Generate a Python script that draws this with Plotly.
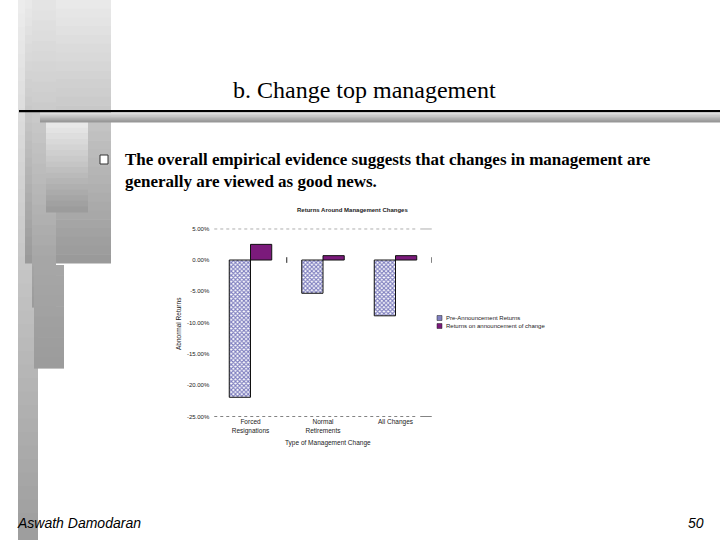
import plotly.graph_objects as go

# ---------------- data ----------------
categories = ["Forced<br>Resignations", "Normal<br>Retirements", "All Changes"]
series_names = ["Pre-Announcement Returns", "Returns on announcement of change"]
pre_returns = [-21.9, -5.3, -8.9]
ann_returns = [2.5, 0.7, 0.7]
y_ticks = [5, 0, -5, -10, -15, -20, -25]
y_tick_labels = ["5.00%", "0.00%", "-5.00%", "-10.00%", "-15.00%", "-20.00%", "-25.00%"]
y_range = [-25, 5]

W, H = 720, 540
def px(x):
    return x / W
def py(y):
    return 1 - y / H

PRE_COLOR = "#ffffff"
ANN_COLOR = "#7b1a7b"

fig = go.Figure()
fig.add_trace(go.Bar(
    x=categories, y=pre_returns, name=series_names[0], showlegend=False,
    marker=dict(color=PRE_COLOR,
                pattern=dict(shape="x", fgcolor="#000080", bgcolor="#ffffff", size=3, solidity=0.6),
                line=dict(color="#111111", width=1)),
))
fig.add_trace(go.Bar(
    x=categories, y=ann_returns, name=series_names[1], showlegend=False,
    marker=dict(color=ANN_COLOR, line=dict(color="#111111", width=1)),
))

shapes = []

def hexc(v):
    v = max(0, min(255, int(round(v))))
    return "#%02x%02x%02x" % (v, v, v)

def grad_rect(x0, x1, y0, y1, ctop, cbot, steps=24):
    h = (y1 - y0) / steps
    for i in range(steps):
        t = i / max(1, steps - 1)
        c = ctop + (cbot - ctop) * t
        shapes.append(dict(type="rect", xref="paper", yref="paper",
                           x0=px(x0), x1=px(x1), y0=py(y0 + i * h), y1=py(y0 + (i + 1) * h + 0.6),
                           fillcolor=hexc(c), line=dict(width=0), layer="below"))

# slide decorations (left grey blocks)
grad_rect(18, 38, 0, 540, 236, 158, 40)
grad_rect(25, 111, 0, 263, 233, 154, 30)
grad_rect(32, 56, 0, 307, 228, 156, 30)
grad_rect(34, 64, 265, 368, 166, 156, 10)
grad_rect(46, 88, 122, 212, 232, 156, 16)
# horizontal rule + grey bar
shapes.append(dict(type="rect", xref="paper", yref="paper", x0=px(19), x1=1, y0=py(110), y1=py(112.2),
                   fillcolor="#000000", line=dict(width=0), layer="below"))
grad_rect(40, 720, 112.8, 122, 222, 152, 8)

# bullet box
shapes.append(dict(type="rect", xref="paper", yref="paper", x0=px(100), x1=px(108), y0=py(155), y1=py(164),
                   fillcolor="white", line=dict(color="#333333", width=1)))

# chart frame lines (top/bottom dotted)
for yv in (y_range[1], y_range[0]):
    shapes.append(dict(type="line", xref="x domain", yref="y", x0=0, x1=0.925, y0=yv, y1=yv,
                       line=dict(color="#333333", width=1, dash="dot")))
    shapes.append(dict(type="line", xref="x domain", yref="y", x0=0.947, x1=1.0, y0=yv, y1=yv,
                       line=dict(color="#333333", width=1)))
# small category tick marks on zero line
for b in (0.5, len(categories) - 0.5):
    shapes.append(dict(type="line", xref="x", yref="y", x0=b, x1=b, y0=-0.45, y1=0.45,
                       line=dict(color="#222222", width=1)))

# custom legend swatches
legend_rows = [(318, "#8080c0"), (326, ANN_COLOR)]
for (yc, col) in legend_rows:
    shapes.append(dict(type="rect", xref="paper", yref="paper", x0=px(437), x1=px(442),
                       y0=py(yc - 2.5), y1=py(yc + 2.5), fillcolor=col, line=dict(color="#222", width=0.5)))

annotations = []
def ann(text, x, y, size, xanchor="center", family="Liberation Serif", color="#000", angle=0, yanchor="middle"):
    annotations.append(dict(text=text, x=px(x), y=py(y), xref="paper", yref="paper", showarrow=False,
                            xanchor=xanchor, yanchor=yanchor, textangle=angle,
                            font=dict(size=size, family=family, color=color)))

ann("b. Change top management", 364, 90, 24)
ann("<b>The overall empirical evidence suggests that changes in management are</b>", 123, 159.5, 17, xanchor="left")
ann("<b>generally are viewed as good news.</b>", 123, 181.5, 17, xanchor="left")
ann("<i>Aswath Damodaran</i>", 15, 523, 14, xanchor="left", family="Liberation Sans")
ann("<i>50</i>", 706, 523, 14, xanchor="right", family="Liberation Sans")

CH = "Liberation Sans"
ann("<b>Returns Around Management Changes</b>", 352, 210, 6, family=CH, color="#222")
ann("Abnormal Returns", 178, 324, 6.5, family=CH, color="#222", angle=-90)
ann("Type of Management Change", 328, 443, 6.5, family=CH, color="#222")
for (yc, _), name in zip(legend_rows, series_names):
    ann(name, 443.5, yc, 6, xanchor="left", family=CH, color="#222")

fig.update_layout(
    width=W, height=H, margin=dict(l=0, r=0, t=0, b=0),
    paper_bgcolor="white", plot_bgcolor="white",
    barmode="group", bargap=0.414, bargroupgap=0,
    showlegend=False,
    shapes=shapes, annotations=annotations,
    xaxis=dict(domain=[214.25 / W, 431.75 / W], showgrid=False, zeroline=False, showline=False,
               ticks="", tickfont=dict(size=6.5, family=CH, color="#222"), automargin=False,
               range=[-0.5, len(categories) - 0.5]),
    yaxis=dict(domain=[py(416.7), py(228.7)], range=y_range, tickvals=y_ticks, ticktext=y_tick_labels,
               showgrid=False, zeroline=False, showline=False, ticks="",
               tickfont=dict(size=6, family=CH, color="#222"), ticklabelstandoff=4, automargin=False),
)

fig.write_html("out.html", config={"displayModeBar": False},
               post_script="document.body.style.margin='0px';document.body.style.overflow='hidden';")
